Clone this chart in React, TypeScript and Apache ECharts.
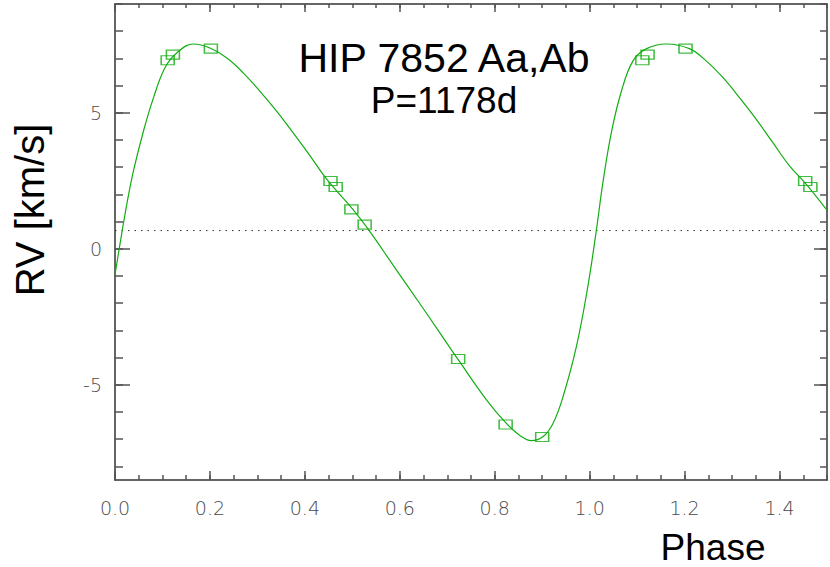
import React, { useEffect, useRef } from "react";
import * as echarts from "echarts";

// Orbit curve (phase, RV km/s)
const curvePhase = [
  0.0, 0.01, 0.025, 0.039, 0.06, 0.081, 0.105, 0.13, 0.165, 0.2, 0.235, 0.27,
  0.305, 0.34, 0.375, 0.411, 0.446, 0.502, 0.533, 0.589, 0.642, 0.684, 0.726,
  0.783, 0.824, 0.853, 0.877, 0.902, 0.923, 0.944, 0.972, 0.996, 1.014, 1.028,
  1.046, 1.067, 1.091, 1.119, 1.161, 1.21, 1.246, 1.281, 1.316, 1.351, 1.386,
  1.421, 1.456, 1.5,
];
const curveRV = [
  -0.95, 0.12, 1.65, 2.87, 4.33, 5.55, 6.65, 7.2, 7.53, 7.38, 7.02, 6.47,
  5.8, 5.07, 4.27, 3.42, 2.56, 1.43, 0.73, -0.68, -2.01, -3.08, -4.15,
  -5.56, -6.41, -6.86, -7.05, -6.9, -6.41, -5.43, -3.6, -1.4, 0.67, 2.45,
  4.3, 5.8, 6.9, 7.35, 7.53, 7.36, 6.9, 6.29, 5.55, 4.76, 3.9,
  3.05, 2.38, 1.42,
];

// Measured RVs (phase, RV km/s)
const obsPhase = [
  0.111, 0.122, 0.202, 0.454, 0.465, 0.498, 0.526, 0.723, 0.823, 0.9,
  1.111, 1.122, 1.202, 1.454, 1.465,
];
const obsRV = [
  6.93, 7.14, 7.36, 2.49, 2.27, 1.45, 0.89, -4.05, -6.46, -6.92,
  6.93, 7.14, 7.36, 2.49, 2.27,
];

const gammaRV = 0.67;

const xMajorTicks = [0, 0.2, 0.4, 0.6, 0.8, 1.0, 1.2, 1.4];
const xMinorTicks = [
  0, 0.05, 0.1, 0.15, 0.2, 0.25, 0.3, 0.35, 0.4, 0.45, 0.5, 0.55, 0.6, 0.65,
  0.7, 0.75, 0.8, 0.85, 0.9, 0.95, 1.0, 1.05, 1.1, 1.15, 1.2, 1.25, 1.3, 1.35,
  1.4, 1.45, 1.5,
];
const yMajorTicks = [-5, 0, 5];
const yMinorTicks = [-8, -7, -6, -5, -4, -3, -2, -1, 0, 1, 2, 3, 4, 5, 6, 7, 8, 9];

const GREEN = "#12ad12";
const AXIS = "#333";
const TICK = "#555";

export default function App() {
  const ref = useRef<HTMLDivElement>(null);
  useEffect(() => {
    if (!ref.current) return;
    const chart = echarts.init(ref.current, null, { renderer: "svg" });

    const labelFont = {
      fontFamily: "DejaVu Sans",
      fontWeight: 200 as any,
      fontSize: 19,
      color: "#4a4a4a",
    };

    const mkX = (pos: "top" | "bottom", ticks: number[], len: number, line: boolean, labels: boolean) => ({
      type: "value",
      position: pos,
      min: 0,
      max: 1.5,
      axisLine: { show: line, onZero: false, lineStyle: { color: AXIS, width: 1.5 } },
      axisTick: { show: true, inside: true, length: len, customValues: ticks, lineStyle: { color: TICK, width: 1.5 } },
      axisLabel: labels
        ? { show: true, customValues: xMajorTicks, margin: 18, formatter: (v: number) => v.toFixed(1), ...labelFont }
        : { show: false },
      splitLine: { show: false },
    });
    const mkY = (pos: "left" | "right", ticks: number[], len: number, line: boolean, labels: boolean) => ({
      type: "value",
      position: pos,
      min: -8.5,
      max: 9,
      axisLine: { show: line, onZero: false, lineStyle: { color: AXIS, width: 1.5 } },
      axisTick: { show: true, inside: true, length: len, customValues: ticks, lineStyle: { color: TICK, width: 1.5 } },
      axisLabel: labels
        ? { show: true, customValues: yMajorTicks, margin: 13, formatter: (v: number) => String(v), ...labelFont }
        : { show: false },
      splitLine: { show: false },
    });

    chart.setOption({
      animation: false,
      backgroundColor: "#fff",
      grid: { left: 115, top: 4, right: 3, bottom: 87 },
      xAxis: [
        mkX("bottom", xMinorTicks, 5, true, true),
        mkX("bottom", xMajorTicks, 9, false, false),
        mkX("top", xMinorTicks, 4, true, false),
        mkX("top", xMajorTicks, 8, false, false),
      ],
      yAxis: [
        mkY("left", yMinorTicks, 8, true, true),
        mkY("left", yMajorTicks, 15, false, false),
        mkY("right", yMinorTicks, 7, true, false),
        mkY("right", yMajorTicks, 13, false, false),
      ],
      series: [
        {
          type: "line",
          data: [
            [0, gammaRV],
            [1.5, gammaRV],
          ],
          showSymbol: false,
          silent: true,
          lineStyle: { color: "#333", width: 1, type: [1.5, 5] },
        },
        {
          type: "line",
          data: curvePhase.map((p, i) => [p, curveRV[i]]),
          smooth: 0.4,
          showSymbol: false,
          lineStyle: { color: GREEN, width: 1.2 },
        },
        {
          type: "scatter",
          data: obsPhase.map((p, i) => [p, obsRV[i]]),
          symbol: "rect",
          symbolSize: [13, 9],
          itemStyle: { color: "rgba(0,0,0,0)", borderColor: GREEN, borderWidth: 1.3 },
        },
      ],
      graphic: [
        {
          type: "text",
          x: 444,
          y: 58,
          style: {
            text: "HIP 7852 Aa,Ab",
            fontFamily: "Liberation Sans",
            fontSize: 41,
            fill: "#000",
            align: "center",
            verticalAlign: "middle",
          },
        },
        {
          type: "text",
          x: 444,
          y: 100,
          style: {
            text: "P=1178d",
            fontFamily: "Liberation Sans",
            fontSize: 37,
            fill: "#000",
            align: "center",
            verticalAlign: "middle",
          },
        },
        {
          type: "text",
          x: 713,
          y: 547,
          style: {
            text: "Phase",
            fontFamily: "Liberation Sans",
            fontSize: 37,
            fill: "#000",
            align: "center",
            verticalAlign: "middle",
          },
        },
        {
          type: "text",
          x: 30,
          y: 210,
          rotation: Math.PI / 2,
          style: {
            text: "RV [km/s]",
            fontFamily: "Liberation Sans",
            fontSize: 40,
            fill: "#000",
            align: "center",
            verticalAlign: "middle",
          },
        },
      ],
    });
    return () => chart.dispose();
  }, []);

  return (
    <div
      ref={ref}
      style={{ position: "absolute", left: 0, top: 0, width: 830, height: 567 }}
    />
  );
}
